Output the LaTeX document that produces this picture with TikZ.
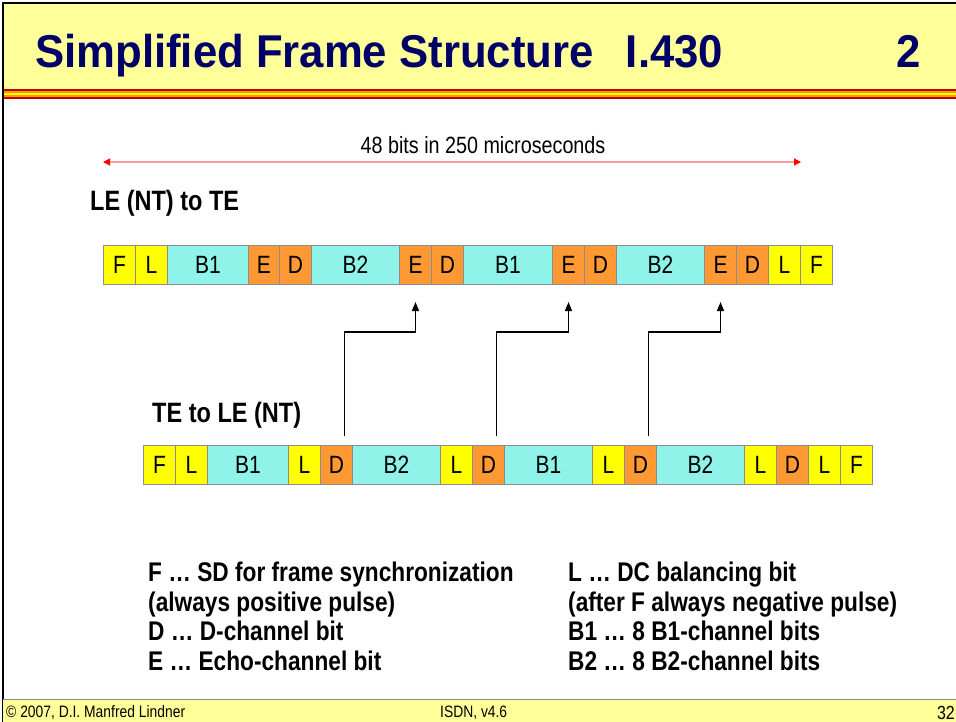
\documentclass[tikz,border=0pt]{standalone}
\usepackage{fontspec}
\setmainfont{Liberation Sans}
\newfontfamily\narrow[FakeStretch=0.84]{Liberation Sans}
\newfontfamily\titlefont[FakeStretch=0.95]{Liberation Sans}
\usetikzlibrary{arrows.meta,calc}
\definecolor{hdr}{HTML}{FFFF99}
\definecolor{navy}{HTML}{000066}
\definecolor{yel}{HTML}{FFFF00}
\definecolor{cyn}{HTML}{8FF3EA}
\definecolor{org}{HTML}{FF9933}
\definecolor{gry}{HTML}{8C8C8C}
\definecolor{pinkline}{HTML}{FF9C9C}
\definecolor{sred}{HTML}{C00000}
\definecolor{sorg}{HTML}{FF9900}
\tikzset{
  bitbox/.style={draw=gry, line width=1pt, minimum height=39pt, inner sep=0pt,
    anchor=north west, font=\narrow\fontsize{25}{25}\selectfont},
  conn/.style={line width=1.3pt, -{Triangle[length=9pt,width=7pt]}},
  lbl/.style={anchor=west, inner sep=0pt, font=\narrow\bfseries\fontsize{28}{28}\selectfont},
  legend/.style={anchor=base west, inner sep=0pt, font=\narrow\bfseries\fontsize{27}{27}\selectfont},
  foot/.style={anchor=base west, inner sep=0pt, font=\narrow\fontsize{16.5}{16.5}\selectfont}
}
\begin{document}
\begin{tikzpicture}[x=1pt,y=-1pt]
\useasboundingbox (0,0) rectangle (956,722);
% header
\fill[hdr] (3,3) rectangle (956,89);
\fill[sred] (3,89) rectangle (956,91);
\fill[sorg] (3,91) rectangle (956,93);
\fill[yel] (3,93) rectangle (956,95);
\fill[sorg] (3,95) rectangle (956,97);
\fill[sred] (3,97) rectangle (956,99);
\draw[line width=1.2pt] (3,722) -- (3,3) -- (956,3);
\node[anchor=base west, inner sep=0pt, text=navy, font=\titlefont\bfseries\fontsize{46}{46}\selectfont] (title) at (35,68) {Simplified Frame Structure\hspace{0.7em}I.430};
\node[anchor=base east, inner sep=0pt, text=navy, font=\titlefont\bfseries\fontsize{46}{46}\selectfont] (num) at (921,68) {2};
% footer
\fill[hdr] (3,699) rectangle (956,722);
\draw[gry, line width=0.6pt] (3,699) -- (956,699);
\node[foot] (f1) at (6,717) {\textcopyright{} 2007, D.I. Manfred Lindner};
\node[foot] (f2) at (440,717) {ISDN, v4.6};
\node[foot, anchor=base east, font=\narrow\fontsize{19}{19}\selectfont] (f3) at (955,719) {32};
% rows
\foreach \a/\b/\t/\c/\n in {103/135/F/yel/t1,135/167/L/yel/t2,167/248/B1/cyn/t3,248/279/E/org/t4,279/311/D/org/t5,311/399/B2/cyn/t6,399/431/E/org/t7,431/463/D/org/t8,463/552/B1/cyn/t9,552/584/E/org/t10,584/616/D/org/t11,616/704/B2/cyn/t12,704/736/E/org/t13,736/768/D/org/t14,768/800/L/yel/t15,800/832/F/yel/t16}
  \node[bitbox, fill=\c, minimum width=\b pt-\a pt] (\n) at (\a,245) {\t};
\foreach \a/\b/\t/\c/\n in {143/175/F/yel/b1,175/207/L/yel/b2,207/288/B1/cyn/b3,288/320/L/yel/b4,320/352/D/org/b5,352/440/B2/cyn/b6,440/472/L/yel/b7,472/504/D/org/b8,504/592/B1/cyn/b9,592/624/L/yel/b10,624/656/D/org/b11,656/744/B2/cyn/b12,744/776/L/yel/b13,776/808/D/org/b14,808/840/L/yel/b15,840/872/F/yel/b16}
  \node[bitbox, fill=\c, minimum width=\b pt-\a pt] (\n) at (\a,445) {\t};
% 48 bits arrow
\coordinate (lvl) at (0,162);
\draw[pinkline, line width=1.2pt, {Triangle[length=7pt,width=7pt,color=red]}-{Triangle[length=7pt,width=7pt,color=red]}] (t1.west |- lvl) -- (t15.east |- lvl);
\node[font=\narrow\fontsize{23.5}{23.5}\selectfont, inner sep=0pt] (cap) at (483,145) {48 bits in 250 microseconds};
% row labels
\node[lbl] (l1) at (90,203) {LE (NT) to TE};
\node[lbl] (l2) at (152,415) {TE to LE (NT)};
% connectors
\draw[conn] ([xshift=8pt,yshift=9pt]b5.north) -- ++(0,-104) -| ([yshift=-17pt]t7.south);
\draw[conn] ([xshift=8pt,yshift=9pt]b8.north) -- ++(0,-104) -| ([yshift=-17pt]t10.south);
\draw[conn] ([xshift=8pt,yshift=9pt]b11.north) -- ++(0,-104) -| ([yshift=-17pt]t13.south);
% legend
\node[legend] (g1) at (148,581) {F \dots{} SD for frame synchronization};
\node[legend] (g2) at (148,611) {(always positive pulse)};
\node[legend] (g3) at (148,640) {D \dots{} D-channel bit};
\node[legend] (g4) at (148,670) {E \dots{} Echo-channel bit};
\node[legend] (g5) at (568,581) {L \dots{} DC balancing bit};
\node[legend] (g6) at (568,611) {(after F always negative pulse)};
\node[legend] (g7) at (568,640) {B1 \dots{} 8 B1-channel bits};
\node[legend] (g8) at (568,670) {B2 \dots{} 8 B2-channel bits};
\end{tikzpicture}
\end{document}
